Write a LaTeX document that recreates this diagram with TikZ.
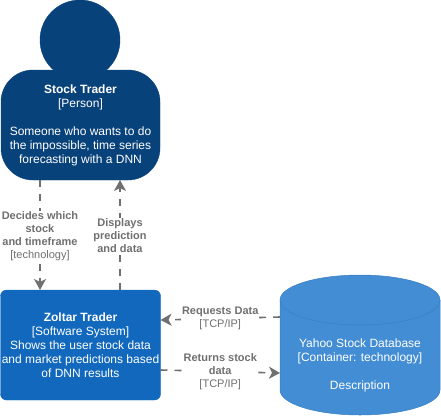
\documentclass[tikz,border=0pt]{standalone}
\usepackage{fontspec}
\setmainfont{Liberation Sans}
\usepackage{xcolor}
\usetikzlibrary{positioning,calc,arrows.meta}
\definecolor{personblue}{HTML}{08427B}
\definecolor{systemblue}{HTML}{1168BD}
\definecolor{containerblue}{HTML}{438DD5}
\definecolor{containerline}{HTML}{3C7FC0}
\definecolor{relgray}{HTML}{707070}

\begin{document}
\begin{tikzpicture}[x=1pt, y=1pt, node distance=0pt, outer sep=0pt,
    font=\fontsize{12}{14}\selectfont, text=white,
    personbody/.style={draw=personblue, fill=personblue, rectangle, rounded corners=32pt, minimum width=159pt, minimum height=110pt, align=center},
    personhead/.style={draw=personblue, fill=personblue, circle, minimum size=80pt},
    softsystem/.style={draw=systemblue, fill=systemblue, rectangle, rounded corners=6pt, minimum width=160pt, minimum height=110pt, inner sep=0pt, align=center},
    database/.style={rectangle, minimum width=160pt, minimum height=140pt, inner sep=0pt},
    dbwall/.style={draw=containerline, fill=containerblue, line width=0.5pt},
    rel/.style={draw=relgray, line width=1.6pt, dash pattern=on 7pt off 7pt, -{Stealth[length=11pt,width=12pt,inset=3pt]}},
    rellabel/.style={fill=white, text=relgray, inner sep=1pt, font=\fontsize{11}{13}\selectfont, align=center}]
    \useasboundingbox (0,0) rectangle (441,416);

    \node [personhead] (head) at (80,376) {};
    \node [personbody] (person) at (80.5,291) {\textbf{Stock Trader}\\{}[Person]\\[14pt]Someone who wants to do\\the impossible, time series\\forecasting with a DNN};
    \node [softsystem, below=110pt of person] (zoltar) {\textbf{Zoltar Trader}\\{}[Software System]\\Shows the user stock data\\and market predictions based\\of DNN results};
    \node [database, right=119.5pt of zoltar] (yahoo) {};

    \draw [dbwall] ($(yahoo.north west)+(0,-25)$) arc [start angle=180, end angle=0, x radius=80, y radius=25] -- ($(yahoo.south east)+(0,25)$) arc [start angle=0, end angle=-180, x radius=80, y radius=25] -- cycle;
    \draw [draw=containerline, line width=0.5pt] ($(yahoo.north west)+(0,-25)$) arc [start angle=180, end angle=360, x radius=80, y radius=25];
    \node [align=center, yshift=-20pt] (yahootext) at (yahoo.center) {Yahoo Stock Database\\{}[Container: technology]\\[14pt]Description};

    \coordinate (reqstart) at ($(yahoo.west)+(0,28)$);
    \coordinate (reqend) at ($(zoltar.east)+(0,25)$);
    \coordinate (retstart) at ($(zoltar.east)+(0,-25)$);
    \coordinate (retend) at ($(yahoo.west)+(0,-28)$);

    \draw [rel] (person.south -| head.west) -- node [rellabel, pos=0.5, yshift=-1.5pt] {\textbf{Decides which}\\\textbf{stock}\\\textbf{and timeframe}\\{}[technology]} (zoltar.north -| head.west);
    \draw [rel] (zoltar.north -| head.east) -- node [rellabel, pos=0.5, yshift=-1pt] {\textbf{Displays}\\\textbf{prediction}\\\textbf{and data}} (person.south -| head.east);
    \draw [rel] (reqstart) -- node [rellabel, pos=0.5] {\textbf{Requests Data}\\{}[TCP/IP]} (reqend);
    \draw [rel] (retstart) -- node [rellabel, pos=0.5] {\textbf{Returns stock}\\\textbf{data}\\{}[TCP/IP]} (retend);
\end{tikzpicture}
\end{document}
